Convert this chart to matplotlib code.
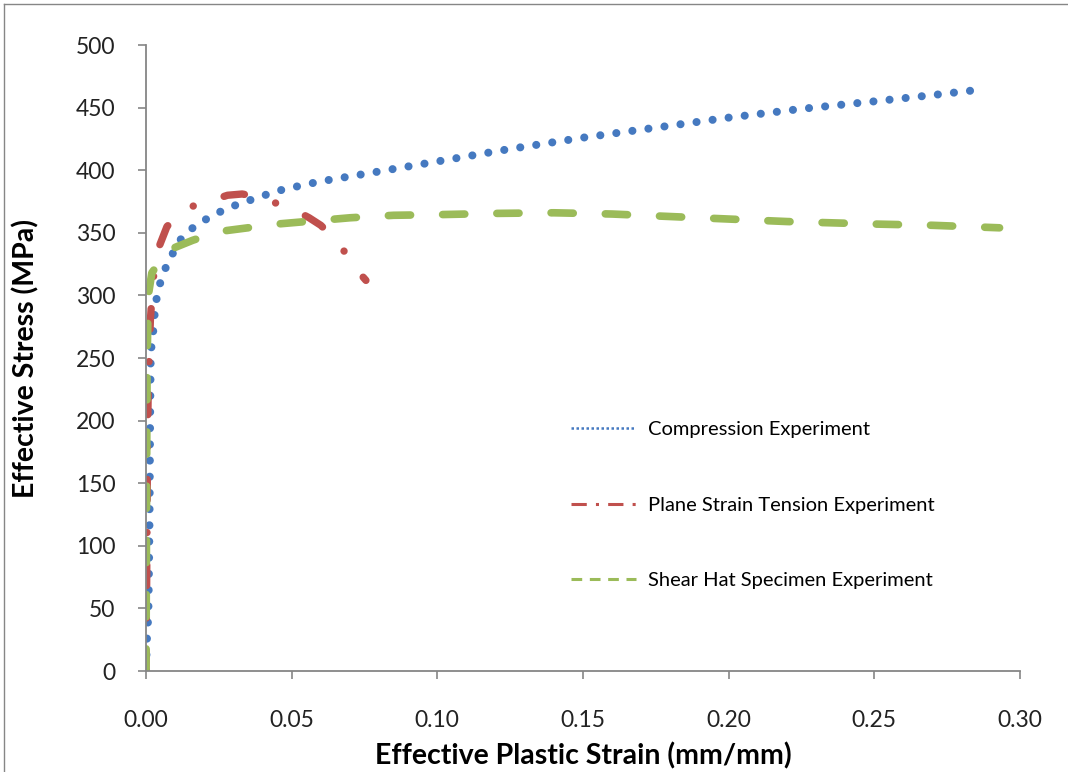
import matplotlib.pyplot as plt
from matplotlib.lines import Line2D

plt.rcParams['font.family'] = ['Lato', 'DejaVu Sans']

# Compression Experiment
comp_strain = [0, 0.0003, 0.0008, 0.0010, 0.0012, 0.0013, 0.0014, 0.0016, 0.0020, 0.0027,
               0.0030, 0.0038, 0.0050, 0.0069, 0.0093, 0.012, 0.0155, 0.020, 0.0247, 0.0295,
               0.0343, 0.0395, 0.0443, 0.0498, 0.0597, 0.08, 0.10, 0.125, 0.15, 0.175,
               0.20, 0.225, 0.25, 0.27, 0.285]
comp_stress = [0, 25, 45, 80, 120, 160, 200, 250, 264, 275,
               287, 300, 311, 323, 334, 345, 353, 360, 366, 371,
               375, 379, 383, 386, 391, 399, 407, 417, 426, 434,
               442, 449, 455, 460, 464]

# Plane Strain Tension Experiment
pst_strain = [0, 0.0002, 0.0004, 0.0005, 0.0008, 0.0015, 0.0024, 0.0040, 0.0072, 0.0110,
              0.0148, 0.020, 0.024, 0.028, 0.033, 0.038, 0.043, 0.048, 0.052, 0.056,
              0.060, 0.064, 0.067, 0.070, 0.0725, 0.0755]
pst_stress = [0, 60, 130, 180, 230, 280, 312, 336, 355, 364,
              370, 375, 377, 380, 381, 379, 375, 371, 367, 362,
              356, 347, 339, 328, 320, 312]

# Shear Hat Specimen Experiment
hat_strain = [0, 0.0001, 0.0002, 0.0004, 0.0008, 0.002, 0.005, 0.0075, 0.016, 0.025,
              0.035, 0.045, 0.055, 0.07, 0.085, 0.10, 0.12, 0.14, 0.16, 0.18,
              0.20, 0.22, 0.25, 0.27, 0.293]
hat_stress = [0, 60, 150, 250, 300, 318, 328, 336, 344, 351,
              354, 357, 359, 362, 364, 364.5, 365.5, 366, 365, 363,
              361, 359, 357, 356, 354]

labels = ['Compression Experiment', 'Plane Strain Tension Experiment', 'Shear Hat Specimen Experiment']
colors = ['#4579c0', '#c0504d', '#9bbb59']

fig = plt.figure(figsize=(10.68, 7.72), dpi=100)
ax = fig.add_axes([0.1367, 0.1308, 0.8183, 0.8109])

ax.plot(comp_strain, comp_stress, color=colors[0], linewidth=5.8,
        linestyle=(0, (0.01, 2.0)), dash_capstyle='round')
ax.plot(pst_strain, pst_stress, color=colors[1], linewidth=5.3,
        linestyle=(0, (2.8, 4.4, 0.01, 4.4)), dash_capstyle='round')
ax.plot(hat_strain, hat_stress, color=colors[2], linewidth=5.5,
        linestyle=(0, (2.9, 4.2)), dash_capstyle='round')

ax.set_xlim(0, 0.30)
ax.set_ylim(0, 500)
ax.set_xticks([0, 0.05, 0.10, 0.15, 0.20, 0.25, 0.30])
ax.set_xticklabels(['0.00', '0.05', '0.10', '0.15', '0.20', '0.25', '0.30'])
ax.set_yticks(range(0, 501, 50))

for s in ['top', 'right']:
    ax.spines[s].set_visible(False)
for s in ['left', 'bottom']:
    ax.spines[s].set_color('#868686')
    ax.spines[s].set_linewidth(1.3)
ax.tick_params(axis='both', direction='out', length=6, width=1.2, color='#868686',
               labelsize=16.5, labelcolor='#222222')
ax.tick_params(axis='y', pad=16)
ax.tick_params(axis='x', pad=22)

ax.set_xlabel('Effective Plastic Strain (mm/mm)', fontsize=20.5, fontweight='bold', labelpad=8)
ax.set_ylabel('Effective Stress (MPa)', fontsize=20.5, fontweight='bold', labelpad=26)

handles = [
    Line2D([], [], color=colors[0], linewidth=1.8, linestyle=(0, (1, 1))),
    Line2D([], [], color=colors[1], linewidth=2.2, linestyle=(0, (5, 3, 1, 3))),
    Line2D([], [], color=colors[2], linewidth=2.2, linestyle=(0, (3.5, 2.5))),
]
ax.legend(handles, labels, loc='upper left', bbox_to_anchor=(561 / 1068, 1 - 411 / 772),
          bbox_transform=fig.transFigure, frameon=False, fontsize=14.5,
          handlelength=3.2, handletextpad=0.6, labelspacing=2.9, borderpad=0)

# chart area border (top and left edges visible)
fig.add_artist(Line2D([4 / 1068, 4 / 1068], [0, 1 - 4 / 772], transform=fig.transFigure,
                      color='#868686', linewidth=1))
fig.add_artist(Line2D([4 / 1068, 1], [1 - 4 / 772, 1 - 4 / 772], transform=fig.transFigure,
                      color='#868686', linewidth=1))

fig.savefig('out.png', dpi=100)
